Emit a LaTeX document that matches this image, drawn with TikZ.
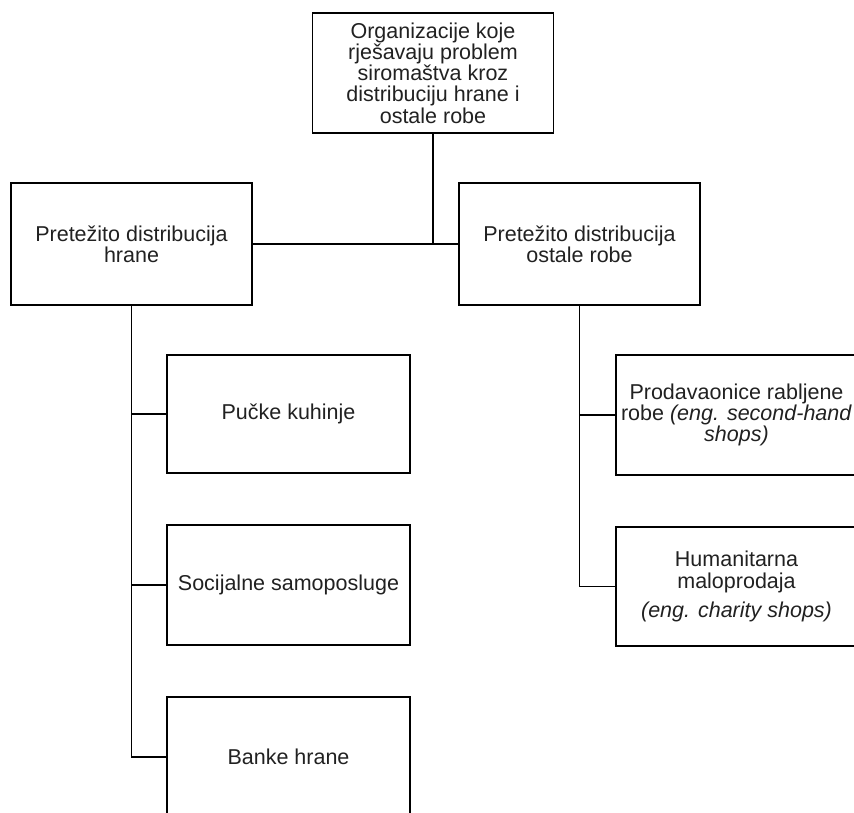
\documentclass[tikz,border=0pt]{standalone}
\usepackage{fontspec}
\setmainfont{Liberation Sans}
\begin{document}
\begin{tikzpicture}[x=1pt,y=-1pt,
  box/.style={draw=black, line width=1.8pt, minimum width=241pt, minimum height=120pt,
    align=center, inner sep=0pt, text=black!87, font=\fontsize{21.5}{21.2}\selectfont},
  conn/.style={draw=black, line width=1.8pt}]
\clip (0,0) rectangle (854,812);
\node[box] (top) at (433,73) {Organizacije koje\\rješavaju problem\\siromaštva kroz\\distribuciju hrane i\\ostale robe};
\node[box, minimum height=122pt] (left) at (131.5,244) {Pretežito distribucija\\hrane};
\node[box, minimum height=122pt] (right) at (579.5,244) {Pretežito distribucija\\ostale robe};
\node[box, minimum width=243pt, minimum height=118pt] (puc) at (288.5,414) {Pučke kuhinje};
\node[box, minimum width=243pt] (soc) at (288.5,585) {Socijalne samoposluge};
\node[box, minimum width=243pt] (ban) at (288.5,757) {Banke hrane};
\node[box] (pro) at (736.5,415) {Prodavaonice rabljene\\robe \textit{(eng. second-hand}\\\textit{shops)}};
\node[box, minimum height=119pt] (hum) at (736.5,586.5) {Humanitarna\\maloprodaja\\[8pt]\textit{(eng. charity shops)}};
\coordinate (j) at (top.south |- left.east);
\draw[conn] (top.south) -- (j);
\draw[conn] (left.east) -- (right.west);
\draw[conn] (left.south) |- (ban.west);
\draw[conn] (left.south |- puc.west) -- (puc.west);
\draw[conn] (left.south |- soc.west) -- (soc.west);
\draw[conn] (right.south) |- (hum.west);
\draw[conn] (right.south |- pro.west) -- (pro.west);
\end{tikzpicture}
\end{document}
